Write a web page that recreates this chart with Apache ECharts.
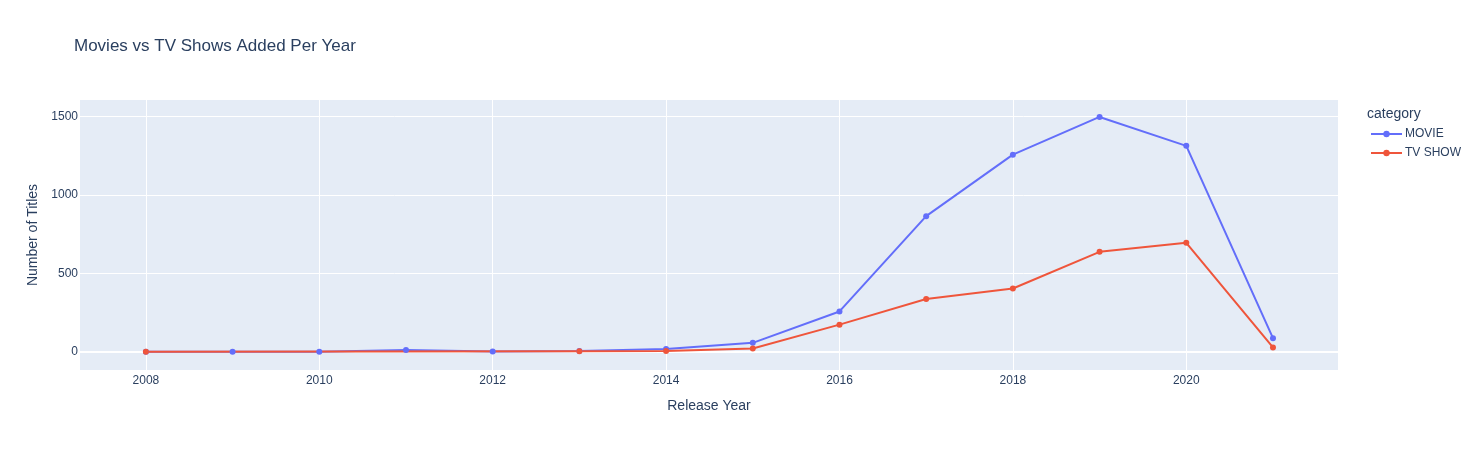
<!DOCTYPE html>
<html>
<head>
<meta charset="utf-8">
<script src="https://cdn.jsdelivr.net/npm/echarts@6/dist/echarts.min.js"></script>
<style>
  html, body { margin: 0; padding: 0; background: #fff; }
  #main { width: 1478px; height: 450px; }
</style>
</head>
<body>
<div id="main"></div>
<script>
// data
var movieYears = [2008, 2009, 2010, 2011, 2012, 2013, 2014, 2015, 2016, 2017, 2018, 2019, 2020, 2021];
var movieCounts = [1, 2, 1, 13, 3, 6, 19, 58, 258, 865, 1257, 1497, 1313, 88];
var tvYears = [2008, 2013, 2014, 2015, 2016, 2017, 2018, 2019, 2020, 2021];
var tvCounts = [1, 5, 6, 22, 174, 337, 404, 638, 695, 29];
var xTicks = [2008, 2010, 2012, 2014, 2016, 2018, 2020];
var yTicks = [0, 500, 1000, 1500];

var textColor = '#2a3f5f';
var font = '"Liberation Sans", Arial, sans-serif';
var myChart = echarts.init(document.getElementById('main'));

function pairs(xs, ys) {
  return xs.map(function (x, i) { return [x, ys[i]]; });
}

option = {
  textStyle: { fontFamily: font },
  title: [
    {
      text: 'Movies vs TV Shows Added Per Year',
      left: 74, top: 38, padding: 0,
      textStyle: { fontSize: 17, fontWeight: 'normal', color: textColor, fontFamily: font }
    },
    {
      text: 'category',
      left: 1367, top: 107, padding: 0,
      textStyle: { fontSize: 14, fontWeight: 'normal', color: textColor, fontFamily: font }
    }
  ],
  legend: {
    orient: 'vertical',
    left: 1370, top: 128, padding: 0,
    itemWidth: 31, itemHeight: 8, itemGap: 7,
    textStyle: { fontSize: 12, color: textColor, fontFamily: font, padding: [0, 0, 0, -2] },
    data: ['MOVIE', 'TV SHOW']
  },
  grid: {
    left: 80, right: 140, top: 100, bottom: 80,
    show: true, backgroundColor: '#E5ECF6', borderWidth: 0
  },
  xAxis: {
    type: 'value',
    min: 2007.24, max: 2021.75,
    name: 'Release Year', nameLocation: 'middle', nameGap: 29,
    nameTextStyle: { fontSize: 14, color: textColor, fontFamily: font },
    axisLine: { show: false },
    axisTick: { show: false, customValues: xTicks },
    axisLabel: {
      customValues: xTicks, color: textColor, fontSize: 12, margin: 5, fontFamily: font,
      formatter: function (v) { return String(v); }
    },
    splitLine: { show: true, lineStyle: { color: '#fff', width: 1 } }
  },
  yAxis: {
    type: 'value',
    min: -115, max: 1605,
    name: 'Number of Titles', nameLocation: 'middle', nameGap: 39,
    nameTextStyle: { fontSize: 14, color: textColor, fontFamily: font },
    axisLine: { show: false },
    axisTick: { show: false, customValues: yTicks },
    axisLabel: {
      customValues: yTicks, color: textColor, fontSize: 12, margin: 2, fontFamily: font,
      formatter: function (v) { return String(v); }
    },
    splitLine: { show: true, lineStyle: { color: '#fff', width: 1 } }
  },
  series: [
    {
      name: 'MOVIE', type: 'line',
      data: pairs(movieYears, movieCounts),
      symbol: 'circle', symbolSize: 6,
      itemStyle: { color: '#636efa' },
      lineStyle: { width: 2, color: '#636efa' },
      markLine: {
        silent: true, symbol: 'none', label: { show: false },
        lineStyle: { color: '#fff', width: 2, type: 'solid' },
        data: [{ yAxis: 0 }],
        z: 1
      }
    },
    {
      name: 'TV SHOW', type: 'line',
      data: pairs(tvYears, tvCounts),
      symbol: 'circle', symbolSize: 6,
      itemStyle: { color: '#EF553B' },
      lineStyle: { width: 2, color: '#EF553B' }
    }
  ]
};

myChart.setOption(option);
</script>
</body>
</html>
